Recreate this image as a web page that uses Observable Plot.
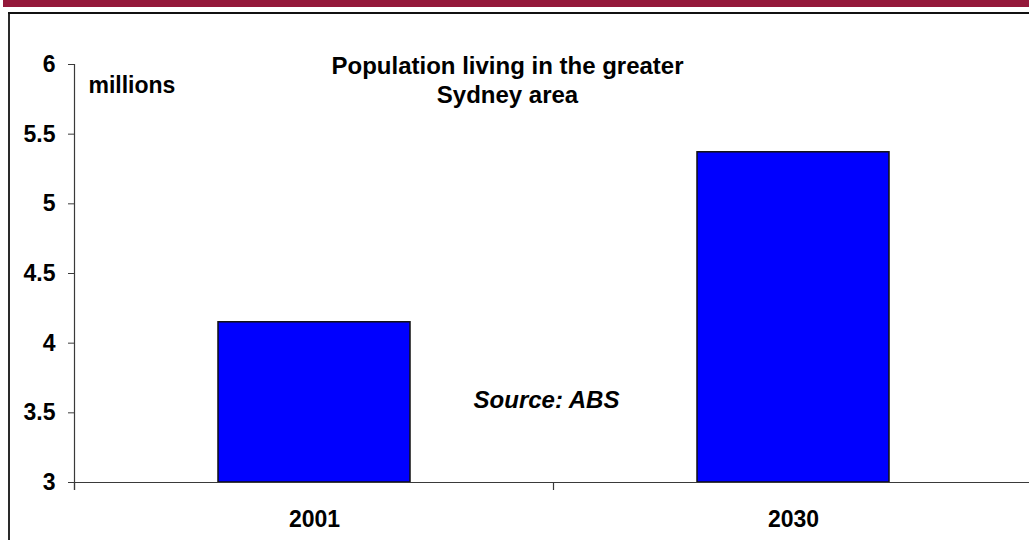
<!DOCTYPE html>
<html>
<head>
<meta charset="utf-8">
<script src="https://cdn.jsdelivr.net/npm/d3@7"></script>
<script src="https://cdn.jsdelivr.net/npm/@observablehq/plot@0.6"></script>
<style>
  html, body { margin: 0; padding: 0; background: #fff; overflow: hidden; }
  #wrap { position: relative; width: 1029px; height: 540px; overflow: hidden; background: #fff; color: #000; }
  #chart svg { position: absolute; left: 0; top: 0; }
  #deco { position: absolute; left: 0; top: 0; pointer-events: none; }
</style>
</head>
<body>
<div id="wrap">
  <div id="chart"></div>
  <svg id="deco" width="1029" height="540" viewBox="0 0 1029 540">
    <rect x="3" y="0" width="1026" height="7" fill="#94183A"></rect>
    <rect x="8" y="12" width="2" height="528" fill="#2a2a2a"></rect>
    <rect x="8" y="12" width="1021" height="2" fill="#111111"></rect>
  </svg>
</div>
<script>
const years = ["2001", "2030"];
const population = [4.15, 5.37];
const yTicks = [3, 3.5, 4, 4.5, 5, 5.5, 6];
const yDomain = [3, 6];
const titleText = "Population living in the greater\nSydney area";
const unitText = "millions";
const sourceText = "Source: ABS";

const data = years.map((year, i) => ({year, value: population[i]}));
const axisColor = "#3a3a3a";
const fontFamily = "'Liberation Sans', Arial, Helvetica, sans-serif";

function customAxes(index, scales, values, dims) {
  const x = scales.x, y = scales.y;
  const dom = x.domain();
  const bw = typeof x.bandwidth === "function" ? x.bandwidth() : (+x.bandwidth || 0);
  const step = typeof x.step === "function" ? x.step() : (x(dom[1]) - x(dom[0]));
  const centers = dom.map(d => x(d) + bw / 2);
  const bounds = centers.map(c => c - step / 2).concat([centers[centers.length - 1] + step / 2]);
  const g = d3.create("svg:g").attr("stroke", axisColor).attr("fill", "none").attr("stroke-width", 1.2);
  const y0 = y(yDomain[0]), y1 = y(yDomain[1]);
  g.append("line").attr("x1", bounds[0]).attr("x2", bounds[0]).attr("y1", y1).attr("y2", y0 + 8);
  for (const b of bounds) {
    g.append("line").attr("x1", b).attr("x2", b).attr("y1", y0).attr("y2", y0 + 8);
  }
  return g.node();
}

const plot = Plot.plot({
  width: 1029,
  height: 540,
  marginLeft: 74,
  marginRight: 0,
  marginTop: 64,
  marginBottom: 58,
  style: {fontFamily, fontSize: "23px", fontWeight: "bold", background: "transparent", overflow: "visible"},
  x: {type: "band", domain: years, range: [74, 1032], paddingInner: 0.6, paddingOuter: 0.3, label: null},
  y: {domain: yDomain, label: null},
  marks: [
    Plot.barY(data, {x: "year", y1: yDomain[0], y2: "value", fill: "#0000FF", stroke: "#111", strokeWidth: 1.5}),
    Plot.ruleY([yDomain[0]], {stroke: axisColor, strokeWidth: 1.2}),
    customAxes,
    Plot.axisY({ticks: yTicks, tickFormat: d => String(d), tickSize: 6, tickPadding: 13, stroke: axisColor, fill: "#000", label: null, fontSize: 23}),
    Plot.axisX({tickSize: 0, tickPadding: 28, fill: "#000", label: null, fontSize: 23}),
    Plot.text([titleText], {frameAnchor: "top-left", textAnchor: "middle", lineAnchor: "top", dx: 433, dy: -11, fontSize: 24, lineHeight: 1.2, fill: "#000"}),
    Plot.text([unitText], {frameAnchor: "top-left", textAnchor: "start", lineAnchor: "top", dx: 14, dy: 12, fontSize: 23, fill: "#000"}),
    Plot.text([sourceText], {frameAnchor: "top-left", textAnchor: "middle", lineAnchor: "top", dx: 472, dy: 326, fontSize: 24, fontStyle: "italic", fill: "#000"})
  ]
});
document.getElementById("chart").appendChild(plot);
</script>
</body>
</html>
